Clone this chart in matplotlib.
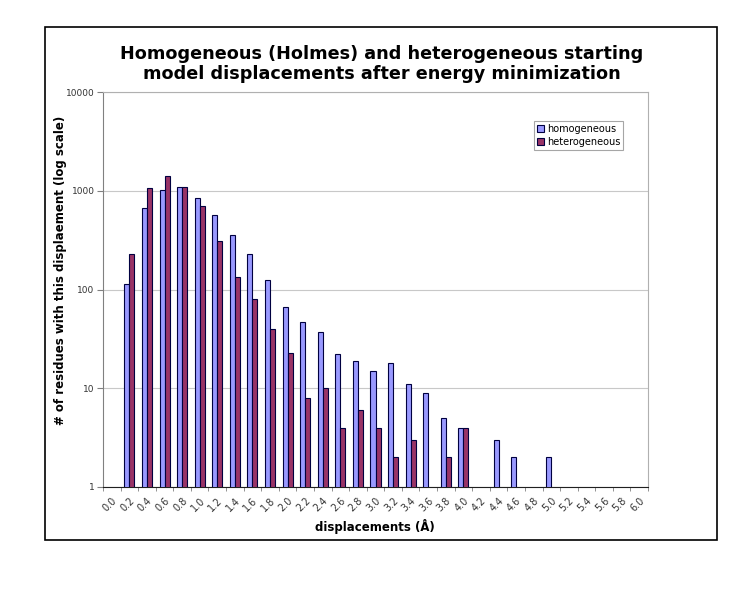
import numpy as np
import matplotlib
matplotlib.use("Agg")
import matplotlib.pyplot as plt
from matplotlib.patches import Rectangle

# ==================================
# Data
# ==================================
displacements = [
    "0.0", "0.2", "0.4", "0.6", "0.8", "1.0", "1.2", "1.4", "1.6", "1.8",
    "2.0", "2.2", "2.4", "2.6", "2.8", "3.0", "3.2", "3.4", "3.6", "3.8",
    "4.0", "4.2", "4.4", "4.6", "4.8", "5.0", "5.2", "5.4", "5.6", "5.8",
    "6.0",
]
homogeneous = [
    0, 114, 664, 1028, 1093, 853, 573, 359, 230, 125,
    66, 47, 37, 22, 19, 15, 18, 11, 9, 5,
    4, 0, 3, 2, 0, 2, 0, 0, 0, 0,
    0,
]
heterogeneous = [
    0, 230, 1060, 1413, 1093, 708, 309, 135, 80, 40,
    23, 8, 10, 4, 6, 4, 2, 3, 0, 2,
    4, 0, 0, 0, 0, 0, 0, 0, 0, 0,
    0,
]

# ==================================
# Figure
# ==================================
fig = plt.figure(figsize=(7.5, 5.95), dpi=100)
fig.patch.set_facecolor("white")

# outer chart frame
fig.patches.append(Rectangle(
    (45 / 750, 55 / 595), 672 / 750, 513 / 595,
    transform=fig.transFigure, fill=False,
    edgecolor="black", linewidth=1.2
))

ax = fig.add_axes([103 / 750, 108 / 595, 545 / 750, 395 / 595])

x = np.arange(len(displacements))
w = 0.285
homo = np.array(homogeneous, dtype=float)
hetero = np.array(heterogeneous, dtype=float)
m1 = homo > 0
m2 = hetero > 0

ax.bar(x[m1] - w / 2, homo[m1], width=w, color="#9999ff",
       edgecolor="#000040", linewidth=0.8, label="homogeneous", zorder=3)
ax.bar(x[m2] + w / 2, hetero[m2], width=w, color="#993366",
       edgecolor="#000040", linewidth=0.8, label="heterogeneous", zorder=3)

ax.set_yscale("log")
ax.set_ylim(1, 10000)
ax.set_xlim(-0.5, len(displacements) - 0.5)

ax.set_yticks([1, 10, 100, 1000, 10000])
ax.set_yticklabels(["1", "10", "100", "1000", "10000"])
ax.yaxis.set_minor_locator(matplotlib.ticker.NullLocator())
ax.tick_params(axis="y", length=4, width=0.8, color="#808080",
               labelsize=6.5, labelcolor="#333333", pad=2)

ax.set_xticks(x)
ax.set_xticklabels(displacements, rotation=45, ha="right",
                   rotation_mode="anchor")
ax.set_xticks(np.arange(len(displacements) + 1) - 0.5, minor=True)
ax.tick_params(axis="x", which="major", length=0, labelsize=7,
               labelcolor="#333333", pad=6)
ax.tick_params(axis="x", which="minor", length=3, color="#808080")

ax.grid(axis="y", which="major", color="#c8c8c8", linewidth=0.8, zorder=0)

for side in ["top", "right"]:
    ax.spines[side].set_color("#b0b0b0")
ax.spines["left"].set_color("#808080")
ax.spines["bottom"].set_color("#202020")

legend = ax.legend(
    loc="upper left",
    bbox_to_anchor=(0.781, 0.94),
    fontsize=7,
    frameon=True,
    fancybox=False,
    edgecolor="#909090",
    handlelength=0.7,
    handleheight=0.7,
    handletextpad=0.3,
    borderpad=0.35,
    labelspacing=0.3,
)
legend.get_frame().set_linewidth(0.8)

# ==================================
# Texts
# ==================================
fig.text(0.509, 1 - 64 / 595,
         "Homogeneous (Holmes) and heterogeneous starting\n"
         "model displacements after energy minimization",
         ha="center", va="center", fontsize=12.7, fontweight="bold",
         linespacing=1.2)

fig.text(61 / 750, 1 - 270 / 595,
         "# of residues with this displaement (log scale)",
         rotation=90, ha="center", va="center",
         fontsize=8.5, fontweight="bold")

fig.text(375 / 750, 1 - 527 / 595, "displacements (Å)",
         ha="center", va="center", fontsize=8.5, fontweight="bold")

plt.savefig("out.png", dpi=100)
plt.close()
